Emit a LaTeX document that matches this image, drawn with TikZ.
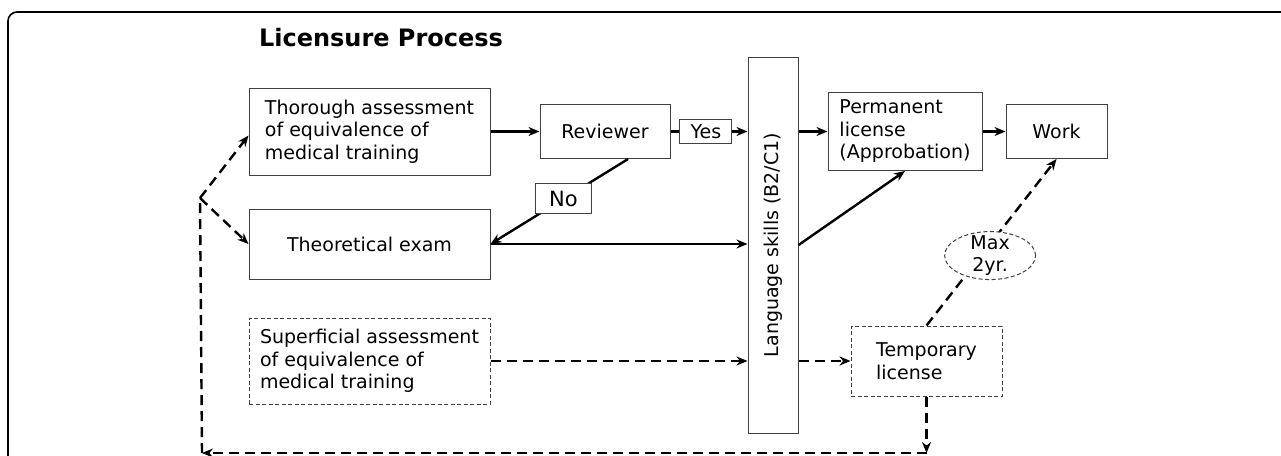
\documentclass[tikz,border=0pt]{standalone}
\usepackage{graphicx}
\usepackage{fontspec}
\setmainfont{DejaVu Sans}
\usetikzlibrary{shapes.geometric, arrows.meta}
\usetikzlibrary{positioning, calc}
\tikzstyle{process} = [rectangle, minimum width=241pt, align=left, draw=black!75, line width=1pt, font=\fontsize{19}{22.5}\selectfont]
\tikzstyle{optional} = [process, dash pattern=on 4pt off 2.5pt]
\tikzstyle{decision} = [rectangle, draw=black!75, line width=1pt, fill=white, inner sep=0pt, font=\fontsize{19}{22.5}\selectfont]
\tikzstyle{limit} = [ellipse, draw=black!75, line width=1pt, dash pattern=on 4pt off 2.5pt, fill=white, minimum width=91pt, minimum height=48pt, inner xsep=0pt, inner ysep=-8pt, align=center, font=\fontsize{19}{22}\selectfont]
\tikzstyle{arrow} = [line width=2.4pt, ->, >={Stealth[length=11pt, width=9pt]}]
\tikzstyle{dasharrow} = [arrow, dash pattern=on 10pt off 6pt]

\begin{document}
\begin{tikzpicture}[x=1pt, y=1pt, node distance=30pt]
    \useasboundingbox (0,0) rectangle (1281,-455);
    \draw [line width=1.6pt, rounded corners=9pt] (1300,-12) -- (8,-12) -- (8,-470);

    % Nodes
    \node (title) [font=\fontsize{24}{28}\selectfont\bfseries] at (381,-38) {Licensure Process};
    \node (thorough) [process, minimum height=87pt] at (369.5,-131.5) {Thorough assessment\\of equivalence of\\medical training};
    \node (review) [process, minimum width=130pt, minimum height=54pt, right=49pt of thorough] {Reviewer};
    \node (theo) [process, minimum height=70pt, below=33pt of thorough] {Theoretical exam};
    \node (superf) [optional, minimum height=86pt, below=38pt of theo] {Superficial assessment\\of equivalence of\\medical training};
    \node (lang) [process, minimum width=50pt, minimum height=376pt] at (773,-245) {\rotatebox{90}{Language skills (B2/C1)}};
    \node (permit) [process, minimum width=154pt, minimum height=78pt, anchor=west] at ($(lang.east |- review.east)+(29pt,0)$) {Permanent\\license\\(Approbation)};
    \node (work) [process, minimum width=101pt, minimum height=54pt, right=23pt of permit] {Work};
    \node (temp) [optional, minimum width=151pt, minimum height=70pt, anchor=west] at ($(lang.east |- superf.east)+(52pt,0)$) {Temporary\\license};
    \coordinate (fork) at (200,-198);
    \coordinate (corner) at (202,-453);

    % Arrows
    \draw [arrow] (thorough) -- (review);
    \draw [arrow] (review.east) -- node[decision, pos=0.46, minimum width=52pt, minimum height=24pt] (yes) {Yes} (review.east -| lang.west);
    \draw [arrow] (review.-50) -- node[decision, pos=0.47, minimum width=56pt, minimum height=30pt, font=\fontsize{21}{24}\selectfont] (no) {No} (theo.east);
    \draw [arrow] (theo.east) -- (theo.east -| lang.west);
    \draw [arrow] (lang.east |- permit.west) -- (permit.west);
    \draw [arrow] (permit) -- (work);
    \draw [arrow] (lang.east) -- (permit.south);
    \draw [dasharrow] (superf.east) -- (superf.east -| lang.west);
    \draw [dasharrow] (lang.east |- temp.west) -- (temp.west);
    \draw [dasharrow] (temp.north) -- node[limit, pos=0.42, xshift=9pt] (maxnote) {Max\\2yr.} (work.south);
    \draw [dasharrow] (temp.south) -- (temp.south |- corner);
    \draw [dasharrow] (temp.south |- corner) -- (corner);
    \draw [dasharrow, -] (corner) -- (fork);
    \draw [dasharrow] (fork) -- ([yshift=-4pt]thorough.west);
    \draw [dasharrow] (fork) -- (theo.west);

\end{tikzpicture}
\end{document}
